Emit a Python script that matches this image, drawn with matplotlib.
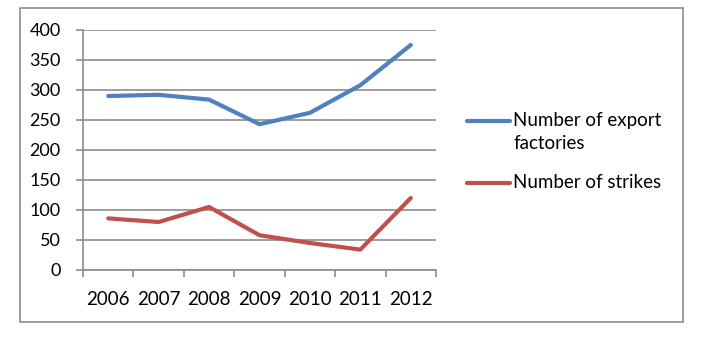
import matplotlib.pyplot as plt
from matplotlib.patches import Rectangle
from matplotlib.lines import Line2D

years = ['2006', '2007', '2008', '2009', '2010', '2011', '2012']
export_factories = [290, 292, 284, 243, 262, 308, 375]
strikes = [86, 80, 105, 58, 45, 34, 120]
series_names = ['Number of export\nfactories', 'Number of strikes']
series_colors = ['#4F81BD', '#C0504D']

plt.rcParams['font.family'] = ['Lato', 'DejaVu Sans']

fig = plt.figure(figsize=(7.04, 3.37), dpi=100)
fig.patches.append(Rectangle((20 / 704, 1 - 322 / 337), 663 / 704, 314 / 337,
                             transform=fig.transFigure, fill=False,
                             edgecolor='#8c8c8c', linewidth=1.2))

ax = fig.add_axes([83 / 704, 1 - 270 / 337, 353 / 704, 240 / 337])
x = range(len(years))
for vals, col in zip([export_factories, strikes], series_colors):
    ax.plot(x, vals, color=col, linewidth=3.0, solid_capstyle='round')

ax.set_xlim(-0.5, len(years) - 0.5)
ax.set_ylim(0, 400)
ax.set_yticks(range(0, 401, 50))
ax.set_xticks([i - 0.5 for i in range(len(years) + 1)])
ax.set_xticklabels([])
ax.set_xticks(list(x), minor=True)
ax.set_xticklabels(years, minor=True)
ax.tick_params(axis='x', which='minor', length=0, pad=15, labelsize=13.5)
ax.tick_params(axis='x', which='major', length=5, color='#8c8c8c', width=1.2)
ax.tick_params(axis='y', length=5, color='#8c8c8c', width=1.2, labelsize=13, pad=11)

ax.grid(axis='y', color='#8c8c8c', linewidth=1.2)
ax.set_axisbelow(True)
for side in ['top', 'right']:
    ax.spines[side].set_visible(False)
for side in ['left', 'bottom']:
    ax.spines[side].set_color('#8c8c8c')
    ax.spines[side].set_linewidth(1.2)

# legend drawn by hand so the handle sits on the first text line
legend_y = [121, 183]
for name, col, yy in zip(series_names, series_colors, legend_y):
    yf = 1 - yy / 337
    fig.add_artist(Line2D([467 / 704, 510 / 704], [yf, yf], color=col,
                          linewidth=3.0, solid_capstyle='round',
                          transform=fig.transFigure))
    fig.text(513 / 704, yf + 9 / 337, name, fontsize=13.5, va='top', ha='left',
             linespacing=1.45)

fig.savefig('out.png', dpi=100)
